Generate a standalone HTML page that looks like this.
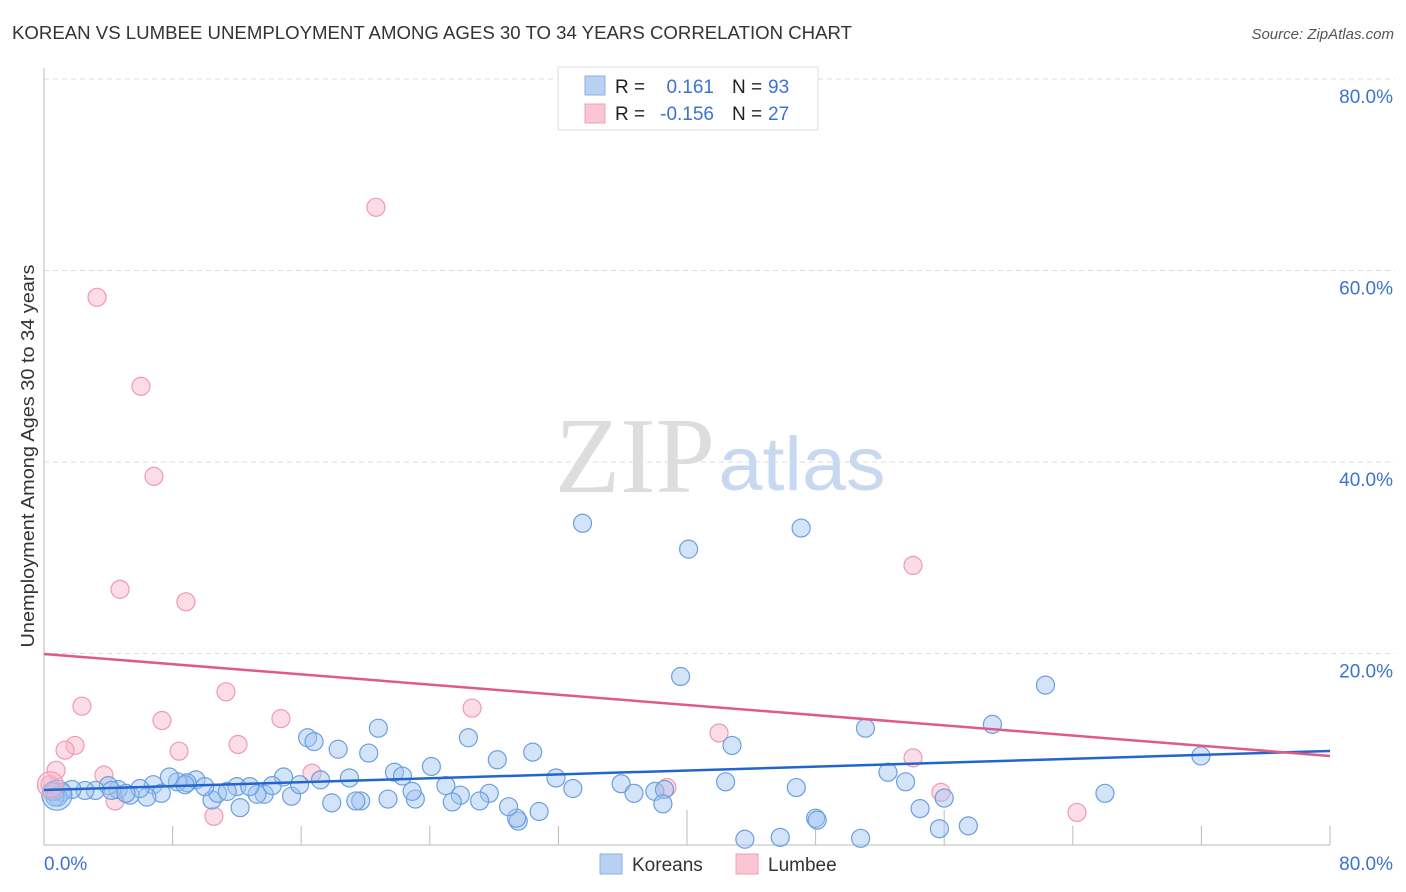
<!DOCTYPE html>
<html><head><meta charset="utf-8"><style>
body{margin:0;background:#fff;font-family:"Liberation Sans",sans-serif;}
svg{display:block}
</style></head><body>
<svg id="c" width="1406" height="892" xmlns="http://www.w3.org/2000/svg">
<text x="12" y="39" font-size="18" fill="#333" textLength="840" lengthAdjust="spacingAndGlyphs">KOREAN VS LUMBEE UNEMPLOYMENT AMONG AGES 30 TO 34 YEARS CORRELATION CHART</text>
<text x="1394" y="39" font-size="15" fill="#555" font-style="italic" text-anchor="end">Source: ZipAtlas.com</text>
<text x="0" y="0" font-size="18" fill="#333" transform="translate(34,456) rotate(-90)" text-anchor="middle" textLength="383" lengthAdjust="spacingAndGlyphs">Unemployment Among Ages 30 to 34 years</text>
<g><text x="635" y="492" font-size="108" fill="#ddd" font-family="Liberation Serif,serif" text-anchor="middle" textLength="160" lengthAdjust="spacingAndGlyphs">ZIP</text><text x="802" y="490" font-size="76" fill="#c8d8f0" text-anchor="middle" textLength="167" lengthAdjust="spacingAndGlyphs">atlas</text></g>
<g id="grid"></g><g id="axes"></g><g id="marks"></g>
<g>
<rect x="558" y="67" width="260" height="63" fill="#fff" stroke="#ddd"/>
<rect x="585" y="76" width="20" height="19" fill="#b8d1f3" stroke="#8ab0e8"/>
<rect x="585" y="104" width="20" height="19" fill="#fac6d4" stroke="#f0a0b8"/>
<text x="615" y="93" font-size="19" fill="#222">R =</text><text x="714" y="93" font-size="19" fill="#3b73d1" text-anchor="end">0.161</text>
<text x="732" y="93" font-size="19" fill="#222">N =</text><text x="768" y="93" font-size="19" fill="#3b73d1">93</text>
<text x="615" y="120" font-size="19" fill="#222">R =</text><text x="714" y="120" font-size="19" fill="#3b73d1" text-anchor="end">-0.156</text>
<text x="732" y="120" font-size="19" fill="#222">N =</text><text x="768" y="120" font-size="19" fill="#3b73d1">27</text>
</g>
<g>
<rect x="600" y="854" width="22" height="20" fill="#b8d1f3" stroke="#8ab0e8"/>
<text x="632" y="871" font-size="19" fill="#333">Koreans</text>
<rect x="736" y="854" width="22" height="20" fill="#fac6d4" stroke="#f0a0b8"/>
<text x="768" y="871" font-size="19" fill="#333">Lumbee</text>
</g>
</svg>
<script>
const yTicks=[20,40,60,80];
const yTickLabels=["20.0%","40.0%","60.0%","80.0%"];
const xEndLabels=["0.0%","80.0%"];
const koreanX=[33.5,40.1,47.1,39.6,62.3,59,51.1,71.97,66,20.8,26.4,16.4,16.8,42.8,30.4,18.3,20.2,28.2,24.1,21.8,22.3,52.5,53.6,42.4,46.8,31.85,35.9,32.9,36.7,38,38.6,56,54.5,38.5,48,48.1,43.6,45.8,50.8,55.7,57.5,29.5,29.4,30.8,28.9,27.7,27.1,25.9,25.4,25,23.1,22.9,21.4,19.7,19.4,17.9,15.4,15.9,14.9,17.2,19,13.7,13.25,12,12.2,10.45,10.8,11.4,12.8,14.2,9.45,10,8.9,8.3,7.8,6.8,7.3,6.4,5.35,4.6,4,3.2,4.2,2.55,1.74,1.12,0.87,0.68,5.97,5.1,8.77,0.5,0.68];
const koreanY=[33.6,30.9,33.1,17.6,16.7,12.6,12.2,9.3,5.4,12.2,11.2,11.2,10.8,10.4,9.7,10,9.6,8.9,8.2,7.6,7.2,7.6,6.6,6.6,6,7,6.4,5.9,5.4,5.6,5.8,4.9,3.8,4.3,2.8,2.6,0.6,0.8,0.7,1.7,2,2.5,2.8,3.5,4,5.4,4.6,5.2,4.5,6.2,4.8,5.6,4.8,4.6,4.6,4.4,5.1,6.3,7.1,6.8,7,5.3,5.3,6.1,3.9,4.7,5.4,5.6,6.1,6.2,6.8,6.1,6.5,6.6,7.1,6.3,5.4,5,5.2,5.8,6.2,5.7,5.7,5.7,5.8,5.5,5,5.6,5.9,5.4,6.3,5.6,5];
const lumbeeX=[20.65,3.3,6.03,6.84,4.73,8.83,54.06,11.32,2.36,7.34,14.74,26.63,41.99,12.07,8.4,1.93,1.31,16.67,3.73,54.06,0.75,0.37,4.42,10.57,38.75,55.8,64.26];
const lumbeeY=[66.6,57.2,47.9,38.5,26.7,25.4,29.2,16,14.5,13,13.2,14.3,11.7,10.5,9.8,10.4,9.9,7.5,7.3,9.1,7.8,6.3,4.6,3,6,5.5,3.4];
const koreanTrend=[5.74,9.82];
const lumbeeTrend=[19.95,9.3];
const big=[[0.8,5.2,15,'k'],[0.4,6.3,13,'l']];
const X=v=>44+v*16.075, Y=v=>845-v*9.575;
const NS="http://www.w3.org/2000/svg";
function mk(p,t,a){const e=document.createElementNS(NS,t);for(const k in a)e.setAttribute(k,a[k]);p.appendChild(e);return e;}
const grid=document.getElementById('grid'),axes=document.getElementById('axes'),marks=document.getElementById('marks');
yTicks.forEach((t,i)=>{
 const l=mk(grid,'line',{x1:44,x2:1395,y1:Y(t),y2:Y(t),stroke:'#ddd','stroke-dasharray':'5,4'});
 
 
 const tx=mk(axes,'text',{x:1393,y:Y(t)+24,'font-size':19,fill:'#3b73d1','text-anchor':'end'});tx.textContent=yTickLabels[i];
 
 
});
mk(axes,'line',{x1:44,x2:44,y1:68,y2:845,stroke:'#bbb'});
mk(axes,'line',{x1:44,x2:1330,y1:845,y2:845,stroke:'#bbb'});
for(let i=1;i<=10;i++){const x=X(i*8);mk(axes,'line',{x1:x,x2:x,y1:(i==5||i==7)?810:826,y2:845,stroke:'#bbb'});}
const xl0=mk(axes,'text',{x:44,y:870,'font-size':19,fill:'#3b73d1'});xl0.textContent=xEndLabels[0];


const xl1=mk(axes,'text',{x:1393,y:870,'font-size':19,fill:'#3b73d1','text-anchor':'end'});xl1.textContent=xEndLabels[1];


function dot(x,y,r,c){const k=c=='k';const e=mk(marks,'circle',{cx:X(x),cy:Y(y),r:r,fill:k?'rgba(160,196,240,0.45)':'rgba(248,180,200,0.45)',stroke:k?'#6a9fe0':'#ee9ab4','stroke-width':1.2});return e;}
lumbeeX.forEach((x,i)=>{const e=dot(x,lumbeeY[i],9,'l');
 
 });
koreanX.forEach((x,i)=>{const e=dot(x,koreanY[i],9,'k');
 
 });
big.forEach(b=>{const e=dot(b[0],b[1],b[2],b[3]);
 
 });
const tk=mk(marks,'line',{x1:X(0),x2:X(80),y1:Y(koreanTrend[0]),y2:Y(koreanTrend[1]),stroke:'#2266cc','stroke-width':2.5});


const tl=mk(marks,'line',{x1:X(0),x2:X(80),y1:Y(lumbeeTrend[0]),y2:Y(lumbeeTrend[1]),stroke:'#e05a88','stroke-width':2.5});


</script>
</body></html>
